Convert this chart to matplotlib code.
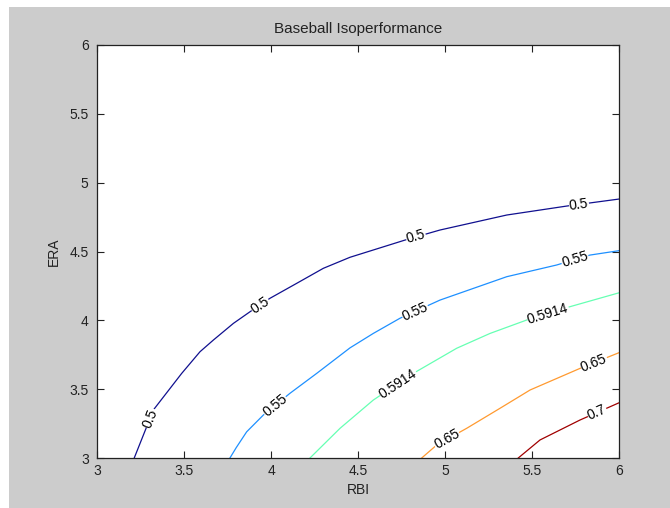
import numpy as np
from matplotlib import pyplot as plt
from matplotlib.patches import Rectangle

# contour levels and the lines (RBI, ERA)
levels = ["0.5", "0.55", "0.5914", "0.65", "0.7"]

rbi_050 = [3.214, 3.324, 3.487, 3.592, 3.669, 3.784, 3.879, 3.994, 4.148,
           4.301, 4.454, 4.770, 4.971, 5.355, 5.699, 6.0]
era_050 = [3.0, 3.349, 3.615, 3.772, 3.857, 3.978, 4.062, 4.160, 4.269,
           4.378, 4.458, 4.583, 4.656, 4.765, 4.830, 4.881]

rbi_055 = [3.764, 3.800, 3.860, 3.956, 4.109, 4.263, 4.454, 4.588, 4.741,
           4.971, 5.163, 5.355, 5.642, 5.833, 6.0]
era_055 = [3.0, 3.075, 3.190, 3.312, 3.470, 3.615, 3.800, 3.905, 4.015,
           4.147, 4.232, 4.317, 4.402, 4.474, 4.506]

rbi_059 = [4.224, 4.397, 4.588, 4.818, 5.067, 5.259, 5.469, 5.718, 6.0]
era_059 = [3.0, 3.216, 3.421, 3.615, 3.797, 3.905, 4.002, 4.099, 4.200]

rbi_065 = [4.866, 4.952, 5.125, 5.316, 5.489, 5.776, 6.0]
era_065 = [3.0, 3.094, 3.216, 3.361, 3.494, 3.651, 3.765]

rbi_070 = [5.421, 5.546, 5.776, 6.0]
era_070 = [3.0, 3.131, 3.276, 3.401]

# where the inline labels sit (RBI value on each line)
label_rbi_050 = [3.305, 3.937, 4.833, 5.770]
label_rbi_055 = [4.023, 4.828, 5.747]
label_rbi_059 = [4.730, 5.592]
label_rbi_065 = [5.011, 5.856]
label_rbi_070 = [5.874]

colors = ["#10108f", "#1e90ff", "#66ffb3", "#ff9a30", "#a00000"]

plt.rcParams['font.family'] = ['Liberation Sans', 'DejaVu Sans']
plt.rcParams['font.size'] = 10

fig = plt.figure(figsize=(6.7, 5.08), dpi=100, facecolor="white")
fig.patches.append(Rectangle((9 / 670, 0), 1, 1 - 7 / 508,
                             transform=fig.transFigure, facecolor="#cccccc",
                             edgecolor="none", zorder=-10))
ax = fig.add_axes([97 / 670, 1 - 458 / 508, 522 / 670, 413 / 508])
ax.set_xlim(3, 6)
ax.set_ylim(3, 6)

lines = [(rbi_050, era_050, label_rbi_050),
         (rbi_055, era_055, label_rbi_055),
         (rbi_059, era_059, label_rbi_059),
         (rbi_065, era_065, label_rbi_065),
         (rbi_070, era_070, label_rbi_070)]

for (xs, ys, lx), lev, col in zip(lines, levels, colors):
    ax.plot(xs, ys, c=col, lw=0.9, zorder=2)
    for x in lx:
        y = np.interp(x, xs, ys)
        i = min(max(np.searchsorted(xs, x), 1), len(xs) - 1)
        p0 = ax.transData.transform((xs[i - 1], ys[i - 1]))
        p1 = ax.transData.transform((xs[i], ys[i]))
        ang = np.degrees(np.arctan2(p1[1] - p0[1], p1[0] - p0[0]))
        ax.text(x, y, lev, rotation=ang, rotation_mode="anchor",
                ha="center", va="center", fontsize=10, color="black",
                zorder=3, bbox=dict(facecolor="white", edgecolor="none",
                                    pad=0.3))

ax.set_xticks([3, 3.5, 4, 4.5, 5, 5.5, 6])
ax.set_yticks([3, 3.5, 4, 4.5, 5, 5.5, 6])
ax.set_xticklabels(["3", "3.5", "4", "4.5", "5", "5.5", "6"])
ax.set_yticklabels(["3", "3.5", "4", "4.5", "5", "5.5", "6"])
ax.tick_params(direction="in", top=True, right=True, length=5, width=0.8,
               colors="#222222", labelsize=10)
ax.tick_params(axis="y", pad=6)
ax.tick_params(axis="x", pad=4)
for s in ax.spines.values():
    s.set_color("#222222")
    s.set_linewidth(0.9)

ax.set_xlabel("RBI", color="#222222", labelpad=4)
ax.set_ylabel("ERA", color="#222222", labelpad=6)
ax.set_title("Baseball Isoperformance", color="#222222", pad=9, fontsize=11)

plt.savefig("out.png", dpi=100, facecolor=fig.get_facecolor())
plt.close()
